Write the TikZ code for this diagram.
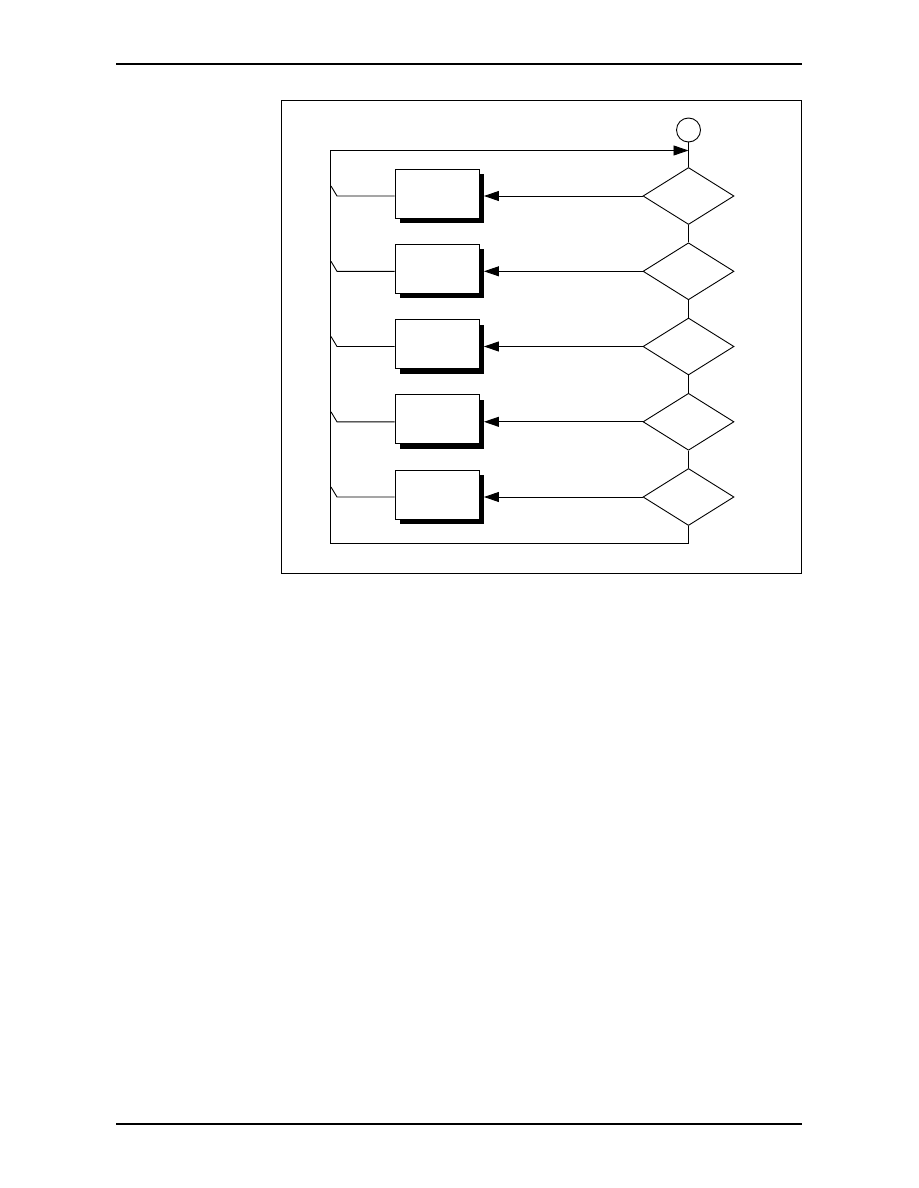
\documentclass[tikz,border=0pt]{standalone}
\usetikzlibrary{shapes.geometric,arrows.meta,shadows}
\begin{document}
\begin{tikzpicture}[x=1pt,y=-1pt,line width=0.9pt,
  decision/.style={draw,diamond,aspect=1.6,inner sep=0pt,minimum width=91pt,minimum height=57pt},
  procbox/.style={draw,fill=white,rectangle,inner sep=0pt,minimum width=84pt,minimum height=49pt,
    drop shadow={shadow xshift=4.5pt,shadow yshift=-5pt,fill=black,opacity=1}},
  flowarrow/.style={-{Triangle[length=15pt,width=10pt]}},
  rule/.style={line width=1.1pt},
  frame/.style={line width=1.7pt}]
\useasboundingbox (0,0) rectangle (918,1188);
% page rules
\coordinate (hl) at (116,64); \coordinate (hr) at (802,64);
\coordinate (fl) at (116,1124); \coordinate (fr) at (802,1124);
\draw[rule] (hl) -- (hr);
\draw[rule] (fl) -- (fr);
% frame
\draw[frame] (281.5,100.5) rectangle (801.5,573.5);
% start circle
\node[draw,circle,minimum size=24pt,inner sep=0pt] (c0) at (688.5,130) {};
% decisions and boxes
\foreach \i/\c in {1/196,2/271.3,3/346.5,4/421.8,5/497}{
  \node[decision] (d\i) at (688.5,\c) {};
  \node[procbox] (b\i) at (437,\c-2.5) {};
  \coordinate (t\i) at ([xshift=4.5pt]b\i.east |- d\i.west);
  \coordinate (s\i) at (337,\c);
  \draw[flowarrow] (d\i.west) -- (t\i);
  \draw (b\i.west |- d\i.west) -- (s\i) -- ++(-6,-10);
}
% main flow line
\draw (c0) -- (d1);
\draw (d1) -- (d2);
\draw (d2) -- (d3);
\draw (d3) -- (d4);
\draw (d4) -- (d5);
\coordinate (br) at (688.5,543);
\coordinate (bl) at (330,543);
\coordinate (tl) at (330,150.5);
\coordinate (tr) at (688.5,150.5);
\draw (d5.south) -- (br) -- (bl) -- (tl);
\draw[flowarrow] (tl) -- (tr);
\end{tikzpicture}
\end{document}
